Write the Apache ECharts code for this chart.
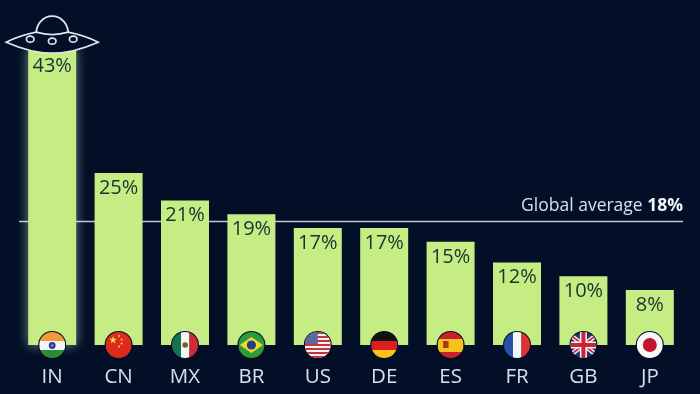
<!DOCTYPE html>
<html>
<head>
    <meta charset="utf-8">
    <script src="https://cdn.jsdelivr.net/npm/echarts@6/dist/echarts.min.js"></script>
    <title>Global average by country</title>
    <style>
        html, body { margin: 0; padding: 0; background: #020f27; }
        #main { width: 700px; height: 394px; }
    </style>
</head>

<body>
    <div id="main"></div>

    <script type="text/javascript">
        var categories = ['IN', 'CN', 'MX', 'BR', 'US', 'DE', 'ES', 'FR', 'GB', 'JP'];
        var values = [43, 25, 21, 19, 17, 17, 15, 12, 10, 8];
        var globalAverage = 18;

        var bg = '#020f27';
        var font = '"Open Sans", "Noto Sans", sans-serif';

        function rect(x, y, w, h, fill) {
            return { type: 'rect', shape: { x: x, y: y, width: w, height: h }, style: { fill: fill } };
        }
        function circle(cx, cy, r, fill) {
            return { type: 'circle', shape: { cx: cx, cy: cy, r: r }, style: { fill: fill } };
        }
        function poly(points, fill) {
            return { type: 'polygon', shape: { points: points }, style: { fill: fill } };
        }
        function star(cx, cy, r) {
            var pts = [];
            for (var i = 0; i < 10; i++) {
                var a = -Math.PI / 2 + i * Math.PI / 5;
                var d = i % 2 ? r * 0.42 : r;
                pts.push([cx + d * Math.cos(a), cy + d * Math.sin(a)]);
            }
            return poly(pts, '#f8d84a');
        }
        function thick(x1, y1, x2, y2, width, color) {
            return { type: 'line', shape: { x1: x1, y1: y1, x2: x2, y2: y2 }, style: { stroke: color, lineWidth: width } };
        }

        // flags are drawn around 0,0 with radius 13
        var flags = {
            IN: function () {
                return [rect(-13, -13, 26, 9, '#f09a3a'), rect(-13, -4, 26, 9, '#f4f4f4'), rect(-13, 5, 26, 8, '#2e8b3a'),
                    circle(0, 0.5, 3.4, '#2b3a8c'), circle(0, 0.5, 1.2, '#8f97c8')];
            },
            CN: function () {
                return [rect(-13, -13, 26, 26, '#de2a1c'), star(-5.5, -5, 4), star(0.5, -9, 1.5), star(3, -5.5, 1.5),
                    star(3, -1.5, 1.5), star(0.5, 1.5, 1.5)];
            },
            MX: function () {
                return [rect(-13, -13, 9, 26, '#16734f'), rect(-4, -13, 8.5, 26, '#f4f4f4'), rect(4.5, -13, 8.5, 26, '#cf2a36'),
                    circle(0.2, 0, 2.8, '#7c5a34')];
            },
            BR: function () {
                return [rect(-13, -13, 26, 26, '#2f9a3a'), poly([[-11.5, 0], [0, -8], [11.5, 0], [0, 8]], '#f4d82e'),
                    circle(0, 0, 4.6, '#1f3f8c')];
            },
            US: function () {
                var els = [rect(-13, -13, 26, 26, '#f4f4f4')];
                for (var i = 0; i < 7; i++) {
                    els.push(rect(-13, -13 + i * 4, 26, 2, '#c8323f'));
                }
                els.push(rect(-13, -13, 13, 12, '#5a6a9c'));
                return els;
            },
            DE: function () {
                return [rect(-13, -13, 26, 9, '#111111'), rect(-13, -4, 26, 9, '#dd1f1f'), rect(-13, 5, 26, 8, '#f8c41c')];
            },
            ES: function () {
                return [rect(-13, -13, 26, 7, '#c8202c'), rect(-13, -6, 26, 13, '#f6c21c'), rect(-13, 7, 26, 6, '#c8202c'),
                    rect(-7.5, -4, 5.5, 7, '#a83a20')];
            },
            FR: function () {
                return [rect(-13, -13, 9, 26, '#2a4fa8'), rect(-4, -13, 8.5, 26, '#f6f6f6'), rect(4.5, -13, 8.5, 26, '#e0303a')];
            },
            GB: function () {
                return [rect(-13, -13, 26, 26, '#27336e'),
                    thick(-13, -10, 13, 10, 4.5, '#f4f4f4'), thick(-13, 10, 13, -10, 4.5, '#f4f4f4'),
                    thick(-13, -10, 13, 10, 1.6, '#cf2237'), thick(-13, 10, 13, -10, 1.6, '#cf2237'),
                    rect(-13, -3.5, 26, 7, '#f4f4f4'), rect(-3.5, -13, 7, 26, '#f4f4f4'),
                    rect(-13, -2, 26, 4, '#cf2237'), rect(-2, -13, 4, 26, '#cf2237')];
            },
            JP: function () {
                return [rect(-13, -13, 26, 26, '#f8f8f8'), circle(0, 0, 7, '#c4122f')];
            }
        };

        function renderFlag(params, api) {
            var p = api.coord([api.value(0), 0]);
            return {
                type: 'group',
                x: p[0],
                y: p[1],
                children: [
                    circle(0, 0, 14, bg),
                    {
                        type: 'group',
                        clipPath: { type: 'circle', shape: { cx: 0, cy: 0, r: 13 } },
                        children: flags[categories[api.value(0)]]()
                    }
                ]
            };
        }

        // saucer sits on top of the tallest bar
        function renderUfo(params, api) {
            var p = api.coord([api.value(0), api.value(1)]);
            var line = { fill: bg, stroke: '#dfe6ee', lineWidth: 1.7 };
            function win(cx, cy) {
                return { type: 'ellipse', shape: { cx: cx, cy: cy, rx: 3.8, ry: 3.1 }, style: line };
            }
            return {
                type: 'group',
                x: p[0],
                y: p[1],
                children: [
                    { type: 'path', shape: { pathData: 'M-16,-13 C-17,-25 -9,-33 0,-33 C9,-33 17,-25 16,-13 Z', x: -17, y: -33, width: 34, height: 20 }, style: line },
                    { type: 'path', shape: { pathData: 'M-46,-7 C-36,-12 -26,-15 -16,-17 C-6,-14 6,-14 16,-17 C26,-15 36,-12 46,-7 C30,0 14,4 0,4 C-14,4 -30,0 -46,-7 Z', x: -46, y: -17, width: 92, height: 21 }, style: line },
                    win(-22, -10),
                    win(0, -8),
                    win(21, -10)
                ]
            };
        }

        var myChart = echarts.init(document.getElementById('main'));

        myChart.setOption({
            backgroundColor: bg,
            animation: false,
            grid: { left: 19, right: 17, top: 1, bottom: 49 },
            xAxis: {
                type: 'category',
                data: categories,
                axisLine: { show: false },
                axisTick: { show: false },
                axisLabel: { color: '#d5e0ec', fontFamily: font, fontSize: 20.5, margin: 22 }
            },
            yAxis: {
                type: 'value',
                min: 0,
                max: 50,
                show: false,
                splitLine: { show: false }
            },
            series: [{
                type: 'bar',
                barWidth: 48,
                z: 2,
                data: values.map(function (v, i) {
                    var item = { value: v };
                    if (i === 0) {
                        item.itemStyle = { shadowColor: 'rgba(215,240,225,0.6)', shadowBlur: 11 };
                        item.label = { distance: 7 };
                    }
                    return item;
                }),
                itemStyle: { color: '#c6ed84' },
                label: {
                    show: true,
                    position: 'insideTop',
                    distance: 5,
                    color: '#17332f',
                    fontFamily: font,
                    fontSize: 20,
                    formatter: '{c}%'
                },
                markLine: {
                    silent: true,
                    symbol: 'none',
                    z: 1,
                    lineStyle: { color: '#bcc6d1', width: 1.4, type: 'solid' },
                    data: [{ yAxis: globalAverage }],
                    label: {
                        position: 'insideEndTop',
                        distance: [0, 6],
                        formatter: 'Global average {b|' + globalAverage + '%}',
                        color: '#d5e0ec',
                        fontFamily: font,
                        fontSize: 17.5,
                        rich: { b: { color: '#f2f5f8', fontFamily: font, fontSize: 17.5, fontWeight: 'bold' } }
                    }
                }
            }, {
                type: 'custom',
                z: 5,
                clip: false,
                renderItem: renderFlag,
                encode: { x: 0, y: 1 },
                data: categories.map(function (c, i) { return [i, 0]; })
            }, {
                type: 'custom',
                z: 6,
                clip: false,
                renderItem: renderUfo,
                encode: { x: 0, y: 1 },
                data: [[0, values[0]]]
            }]
        });
    </script>
</body>

</html>
